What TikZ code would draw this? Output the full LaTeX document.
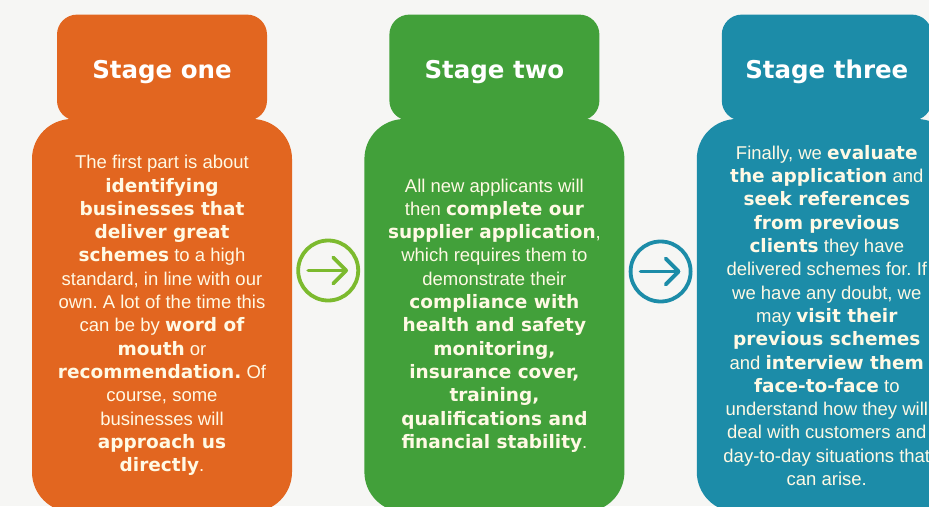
\documentclass[tikz,border=0pt]{standalone}
\usepackage{fontspec}
\setmainfont{Liberation Sans}
\newfontfamily\heavyfont{DejaVu Sans}
\usetikzlibrary{positioning,calc}
\definecolor{stageorange}{RGB}{226,102,32}
\definecolor{stagegreen}{RGB}{66,160,58}
\definecolor{ringgreen}{RGB}{124,186,46}
\definecolor{stageblue}{RGB}{28,140,168}
\definecolor{paper}{RGB}{246,246,244}
\definecolor{cream}{RGB}{255,249,228}
\newcommand{\hb}[1]{{\heavyfont\bfseries #1}}
\frenchspacing

\begin{document}
\begin{tikzpicture}[x=1pt, y=-1pt, node distance=72pt,
  body/.style={rounded corners=40pt, minimum width=260pt, minimum height=393pt, inner sep=0pt, align=center, text=cream, font=\fontsize{18.5}{23.3}\selectfont},
  head/.style={rounded corners=20pt, minimum width=210pt, minimum height=106pt, inner sep=0pt, text height=22pt, text depth=0pt, text=white, font=\heavyfont\bfseries\fontsize{24.5}{28}\selectfont},
  ring/.style={circle, draw, line width=3.8pt, minimum size=60pt, inner sep=0pt},
  tick/.style={line width=3.8pt, line cap=round, line join=round}]
\useasboundingbox (0,0) rectangle (929,506);
\clip (0,0) rectangle (929,506);
\fill[paper] (0,0) rectangle (929,506);
% the three stages
\node[body, fill=stageorange] (onebody) at (162,315.5) {The first part is about\\ \hb{identifying}\\ \hb{businesses that}\\ \hb{deliver great}\\ \hb{schemes} to a high\\ standard, in line with our\\ own. A lot of the time this\\ can be by \hb{word of}\\ \hb{mouth} or\\ \hb{recommendation.} Of\\ course, some\\ businesses will\\ \hb{approach us}\\ \hb{directly}.};
\node[body, fill=stagegreen, right=of onebody] (twobody) {All new applicants will\\ then \hb{complete our}\\ \hb{supplier application},\\ which requires them to\\ demonstrate their\\ \hb{compliance with}\\ \hb{health and safety}\\ \hb{monitoring,}\\ \hb{insurance cover,}\\ \hb{training,}\\ \hb{qualifications and}\\ \hb{financial stability}.};
\node[body, fill=stageblue, right=of twobody] (threebody) {Finally, we \hb{evaluate}\\ \hb{the application} and\\ \hb{seek references}\\ \hb{from previous}\\ \hb{clients} they have\\ delivered schemes for. If\\ we have any doubt, we\\ may \hb{visit their}\\ \hb{previous schemes}\\ and \hb{interview them}\\ \hb{face-to-face} to\\ understand how they will\\ deal with customers and\\ day-to-day situations that\\ can arise.};
\node[head, fill=stageorange, above=-2pt of onebody] (onehead) {Stage one};
\node[head, fill=stagegreen, above=-2pt of twobody] (twohead) {Stage two};
\node[head, fill=stageblue, above=-2pt of threebody] (threehead) {Stage three};
% arrows between stages
\node[ring, draw=ringgreen] (ringa) at ($(onebody.east)!.5!(twobody.west)+(0,-45)$) {};
\node[ring, draw=stageblue] (ringb) at ($(twobody.east)!.5!(threebody.west)+(0,-44)$) {};
\draw[tick, ringgreen] ([xshift=-20pt]ringa.center) -- ([xshift=18pt]ringa.center);
\draw[tick, ringgreen] ([xshift=5pt,yshift=13pt]ringa.center) -- ([xshift=18pt]ringa.center) -- ([xshift=5pt,yshift=-13pt]ringa.center);
\draw[tick, stageblue] ([xshift=-20pt]ringb.center) -- ([xshift=18pt]ringb.center);
\draw[tick, stageblue] ([xshift=5pt,yshift=13pt]ringb.center) -- ([xshift=18pt]ringb.center) -- ([xshift=5pt,yshift=-13pt]ringb.center);
\end{tikzpicture}
\end{document}
